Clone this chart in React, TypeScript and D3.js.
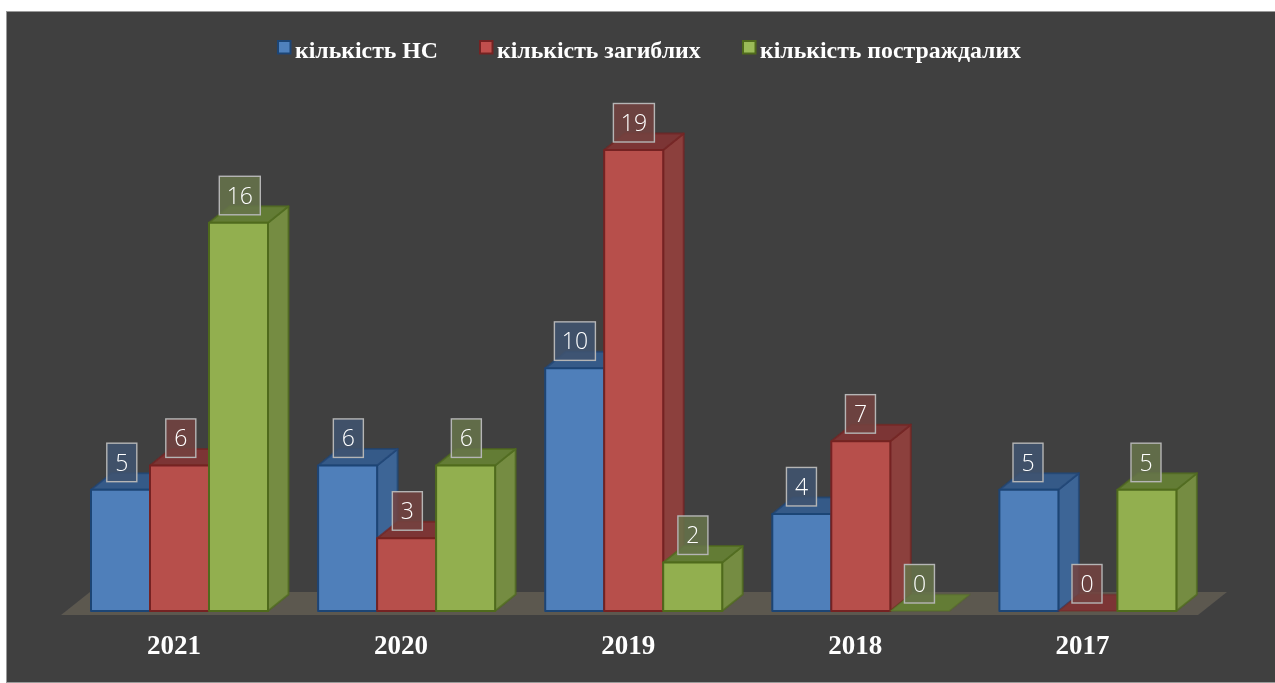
import React from "react";
import * as d3 from "d3";

const years = ["2021", "2020", "2019", "2018", "2017"];
const seriesNames = ["кількість НС", "кількість загиблих", "кількість постраждалих"];
const incidents = [5, 6, 10, 4, 5];
const deaths = [6, 3, 19, 7, 0];
const injured = [16, 6, 2, 0, 5];
const seriesValues = [incidents, deaths, injured];
const palette = [
  { front: "#4f7fba", side: "#3d6596", top: "#355a88", stroke: "#1f4475", legend: "#4f81bd", tag: "#3e5470" },
  { front: "#b74f4c", side: "#8c3f3d", top: "#7b3534", stroke: "#742422", legend: "#c0504d", tag: "#744240" },
  { front: "#92af50", side: "#748c42", top: "#647c36", stroke: "#4f6a1c", legend: "#9bbb59", tag: "#66744a" },
];
const legendX = [278, 480, 743];

const W = 1275, H = 683;
const baseY = 611, topY = 150;
const depthX = 20.5, depthY = 16.5;

export default function App() {
  const y = d3.scaleLinear().domain([0, 19]).range([baseY, topY]);
  const groupStep = 227.1;
  const barW = 59;
  const gx = (i: number) => 91 + i * groupStep;
  const floor = d3.line()([
    [61, 615], [1198, 615], [1227, 592], [90, 592],
  ]) + "Z";
  return (
    <svg width={W} height={H} viewBox={`0 0 ${W} ${H}`} style={{ position: "absolute", left: 0, top: 0, background: "#fff" }}>
      <defs>
        <filter id="soft" x="-5%" y="-5%" width="110%" height="110%">
          <feGaussianBlur stdDeviation="0.6" />
        </filter>
        <filter id="softText" x="-5%" y="-20%" width="110%" height="140%">
          <feGaussianBlur stdDeviation="0.3" />
        </filter>
      </defs>
      <rect x={6.5} y={11.5} width={1275} height={671} fill="#404040" stroke="#9a9a9a" strokeWidth={1} />
      <path d={floor} fill="#5b5850" filter="url(#soft)" />
      <g filter="url(#soft)">
        {years.map((yr, i) =>
          seriesValues.map((vals, s) => {
            const v = vals[i];
            const c = palette[s];
            const xl = gx(i) + s * barW;
            const xr = xl + barW;
            const yt = y(v);
            const top = d3.line()([[xl, yt], [xr, yt], [xr + depthX, yt - depthY], [xl + depthX, yt - depthY]]) + "Z";
            const side = d3.line()([[xr, yt], [xr + depthX, yt - depthY], [xr + depthX, baseY - depthY], [xr, baseY]]) + "Z";
            return (
              <g key={yr + s} stroke={c.stroke} strokeWidth={2} strokeLinejoin="round">
                {v > 0 && <path d={side} fill={c.side} strokeOpacity={0.7} />}
                <path d={top} fill={c.top} strokeOpacity={v > 0 ? 0.7 : 0.35} />
                {v > 0 && <rect x={xl} y={yt} width={barW} height={baseY - yt} fill={c.front} />}
              </g>
            );
          })
        )}
      </g>
      {years.map((yr, i) =>
        seriesValues.map((vals, s) => {
          const v = vals[i];
          const c = palette[s];
          const cx = gx(i) + s * barW + barW / 2 + 1.3 - 0.55 * i;
          const w = v >= 10 ? 41 : 30;
          const yb = y(v) - 8;
          return (
            <g key={yr + s} filter="url(#softText)">
              <rect x={cx - w / 2} y={yb - 38.5} width={w} height={38.5} fill={c.tag} fillOpacity={0.85} stroke="#b5b5b5" strokeWidth={1.4} />
              <text x={cx} y={yb - 11} textAnchor="middle" fontFamily="'Open Sans'" fontWeight={300} fontSize={23} fill="#fff">{v}</text>
            </g>
          );
        })
      )}
      {years.map((yr, i) => (
        <text key={yr} x={gx(i) + 83} y={654} textAnchor="middle" fontFamily="'Liberation Serif'" fontWeight={700} fontSize={27} fill="#fff" filter="url(#softText)">{yr}</text>
      ))}
      {seriesNames.map((name, s) => (
        <g key={name}>
          <rect x={legendX[s]} y={41} width={12.5} height={12.5} fill={palette[s].legend} stroke={palette[s].stroke} strokeWidth={2} filter="url(#softText)" />
          <text x={legendX[s] + 17} y={58} fontFamily="'Liberation Serif'" fontWeight={700} fontSize={23.8} fill="#fff" filter="url(#softText)">{name}</text>
        </g>
      ))}
    </svg>
  );
}
